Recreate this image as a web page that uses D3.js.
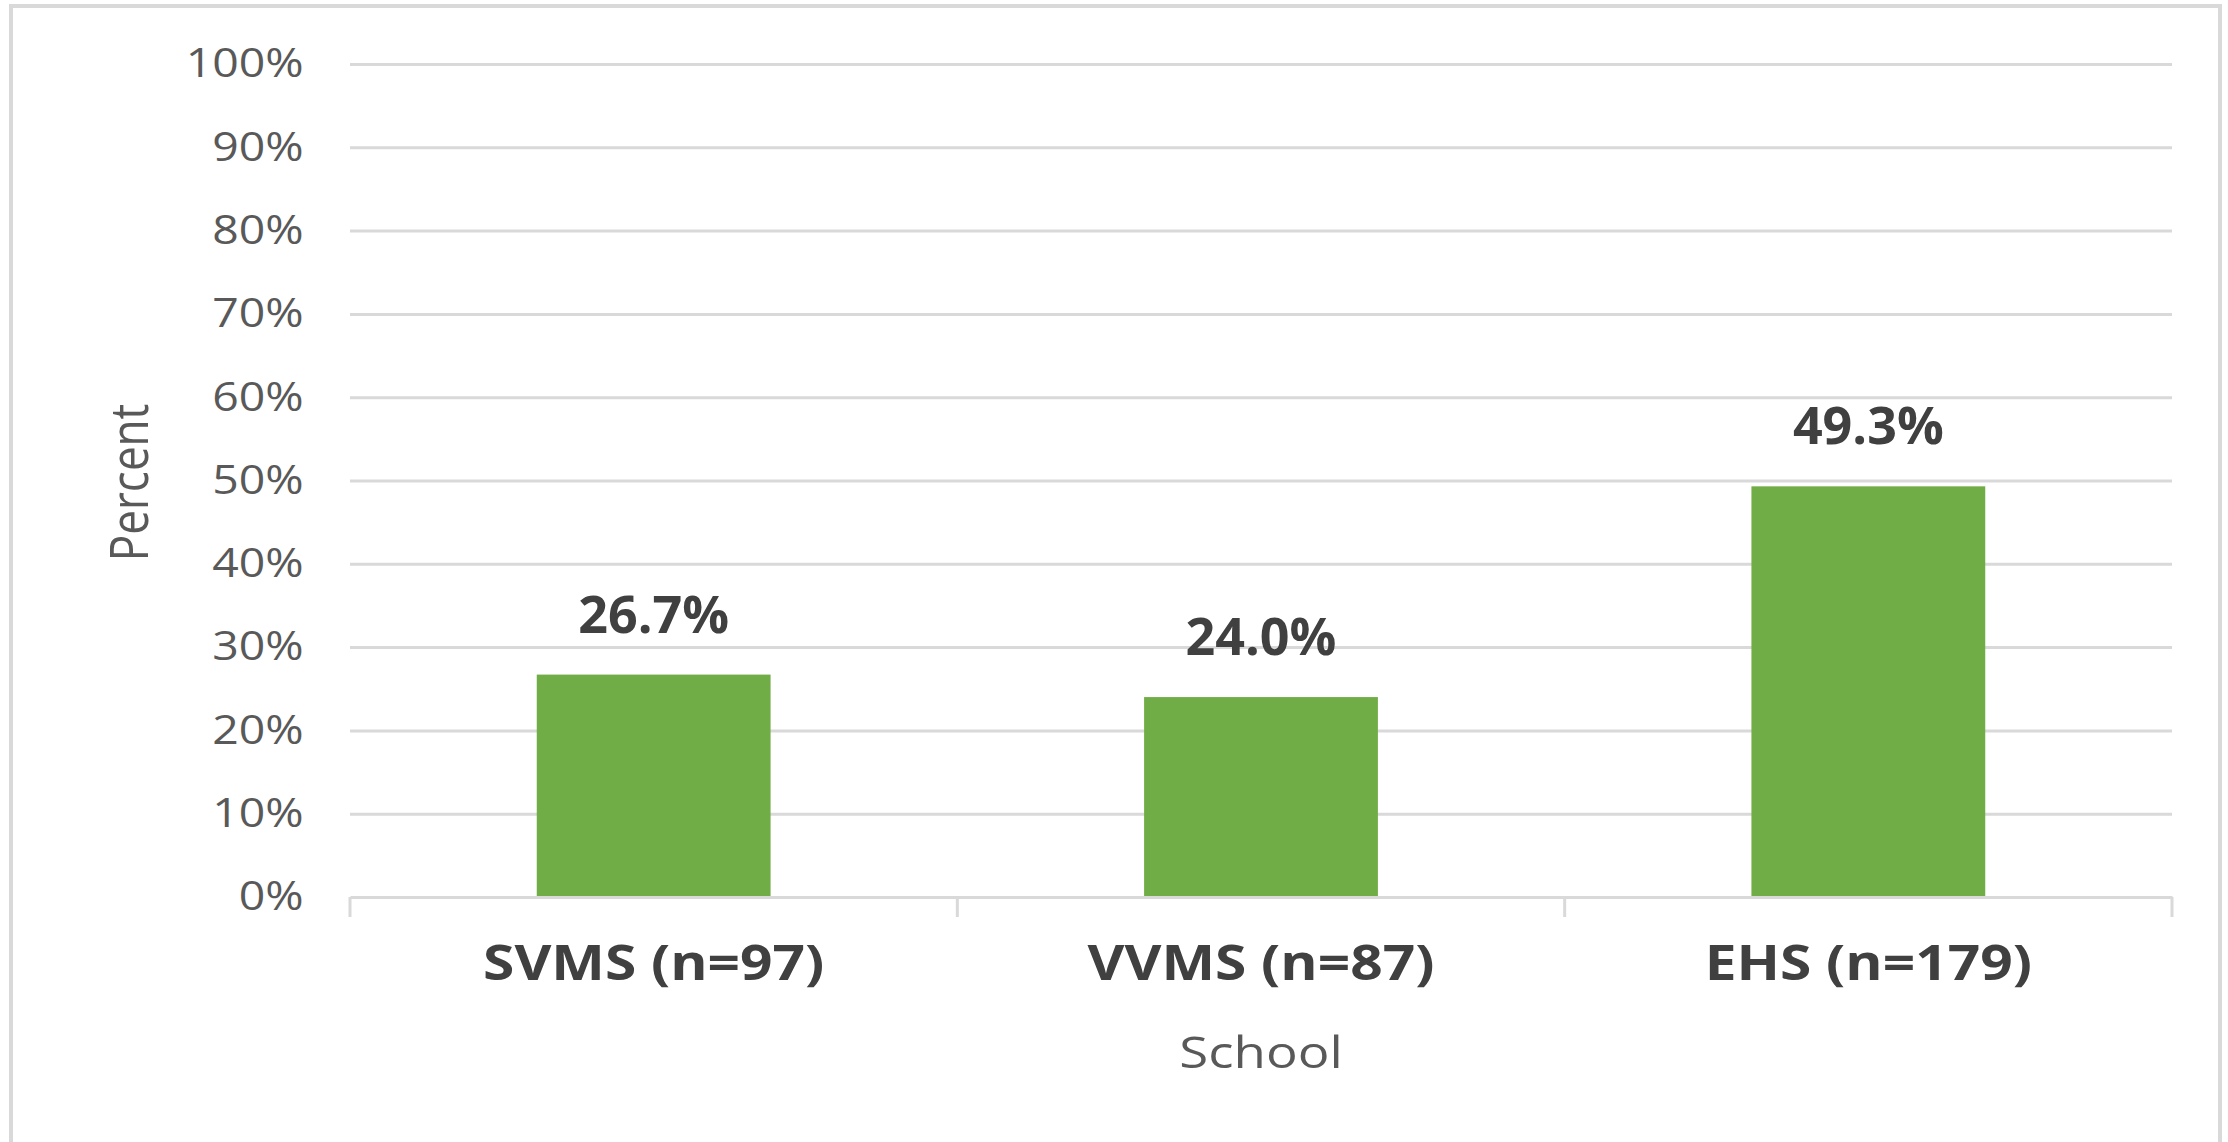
<!DOCTYPE html>
<html lang="en">
	<head>
		<meta charset="utf-8">
		<title>percent by school</title>
		<script type="text/javascript" src="https://cdn.jsdelivr.net/npm/d3@7"></script>
		<style type="text/css">
			body { margin: 0; background: #fff; }
			text { font-family: "Open Sans", "Noto Sans", sans-serif; }
		</style>
	</head>
	<body>
		<script type="text/javascript">
			//data
			var schools = ["SVMS (n=97)", "VVMS (n=87)", "EHS (n=179)"];
			var percents = [26.7, 24.0, 49.3];
			var yTicks = [0, 10, 20, 30, 40, 50, 60, 70, 80, 90, 100];

			//Width and height
			var w = 2228;
			var h = 1142;
			var plotLeft = 350, plotRight = 2172, plotTop = 64, plotBottom = 897;
			var stretch = 1.16;  //text in the original is drawn a bit wide

			var svg = d3.select("body")
						.append("svg")
						.attr("width", w)
						.attr("height", h);

			//outer frame
			svg.append("rect")
			   .attr("x", 11)
			   .attr("y", 6)
			   .attr("width", 2209)
			   .attr("height", 1150)
			   .attr("fill", "none")
			   .attr("stroke", "#d9d9d9")
			   .attr("stroke-width", 4);

			var xScale = d3.scaleBand()
						   .domain(schools)
						   .range([plotLeft, plotRight])
						   .paddingInner(0.615)
						   .paddingOuter(0.3075);

			var yScale = d3.scaleLinear()
						   .domain([0, 100])
						   .range([plotBottom, plotTop]);

			//gridlines
			var grid = svg.append("g")
				.attr("transform", "translate(" + plotLeft + ",0)")
				.call(d3.axisLeft(yScale)
						.tickValues(yTicks.slice(1))
						.tickSize(-(plotRight - plotLeft))
						.tickFormat(""));
			grid.select(".domain").remove();
			grid.selectAll("line")
				.attr("stroke", "#d9d9d9")
				.attr("stroke-width", 3);

			//y tick labels
			var yAxis = svg.append("g")
				.attr("transform", "translate(" + plotLeft + ",0)")
				.call(d3.axisLeft(yScale)
						.tickValues(yTicks)
						.tickSize(0)
						.tickPadding(40)
						.tickFormat(function(d) { return d + "%"; }));
			yAxis.select(".domain").remove();
			yAxis.selectAll("text")
				.attr("transform", "scale(" + stretch + ",1)")
				.style("font-size", "40px")
				.attr("fill", "#595959");

			//bars
			svg.selectAll("rect.bar")
			   .data(schools)
			   .enter()
			   .append("rect")
			   .attr("class", "bar")
			   .attr("x", function(d) { return xScale(d); })
			   .attr("y", function(d, i) { return yScale(percents[i]); })
			   .attr("width", xScale.bandwidth())
			   .attr("height", function(d, i) { return yScale(0) - yScale(percents[i]); })
			   .attr("fill", "#70ad47");

			//x axis
			var xAxis = svg.append("g")
				.attr("transform", "translate(0," + plotBottom + ")")
				.call(d3.axisBottom(xScale).tickSize(0));
			xAxis.select(".domain")
				.attr("stroke", "#d9d9d9")
				.attr("stroke-width", 3);
			xAxis.selectAll("text")
				.attr("y", 83)
				.attr("dy", null)
				.attr("transform", "scale(" + stretch + ",1)")
				.style("font-size", "49px")
				.style("font-weight", "bold")
				.attr("fill", "#404040");

			//tick marks between the categories
			var edges = d3.range(schools.length + 1).map(function(i) {
				return xScale.range()[0] + i * xScale.step();
			});
			xAxis.selectAll("line.edge")
				.data(edges)
				.enter()
				.append("line")
				.attr("class", "edge")
				.attr("x1", function(d) { return d; })
				.attr("x2", function(d) { return d; })
				.attr("y1", 0)
				.attr("y2", 20)
				.attr("stroke", "#d9d9d9")
				.attr("stroke-width", 3);

			//value labels
			svg.selectAll("text.val")
			   .data(schools)
			   .enter()
			   .append("text")
			   .attr("class", "val")
			   .attr("x", function(d) { return xScale(d) + xScale.bandwidth() / 2; })
			   .attr("y", function(d, i) { return yScale(percents[i]) - 42; })
			   .attr("text-anchor", "middle")
			   .style("font-size", "52px")
			   .style("font-weight", "bold")
			   .attr("fill", "#404040")
			   .text(function(d, i) { return percents[i].toFixed(1) + "%"; });

			//axis titles
			svg.append("text")
			   .attr("transform", "translate(" + ((plotLeft + plotRight) / 2) + ",1068) scale(1.2,1)")
			   .attr("text-anchor", "middle")
			   .style("font-size", "44px")
			   .attr("fill", "#595959")
			   .text("School");

			svg.append("text")
			   .attr("transform", "translate(148," + ((plotTop + plotBottom) / 2 + 2) + ") scale(1.2,1) rotate(-90)")
			   .attr("text-anchor", "middle")
			   .style("font-size", "44px")
			   .attr("fill", "#595959")
			   .text("Percent");
		</script>
	</body>
</html>
